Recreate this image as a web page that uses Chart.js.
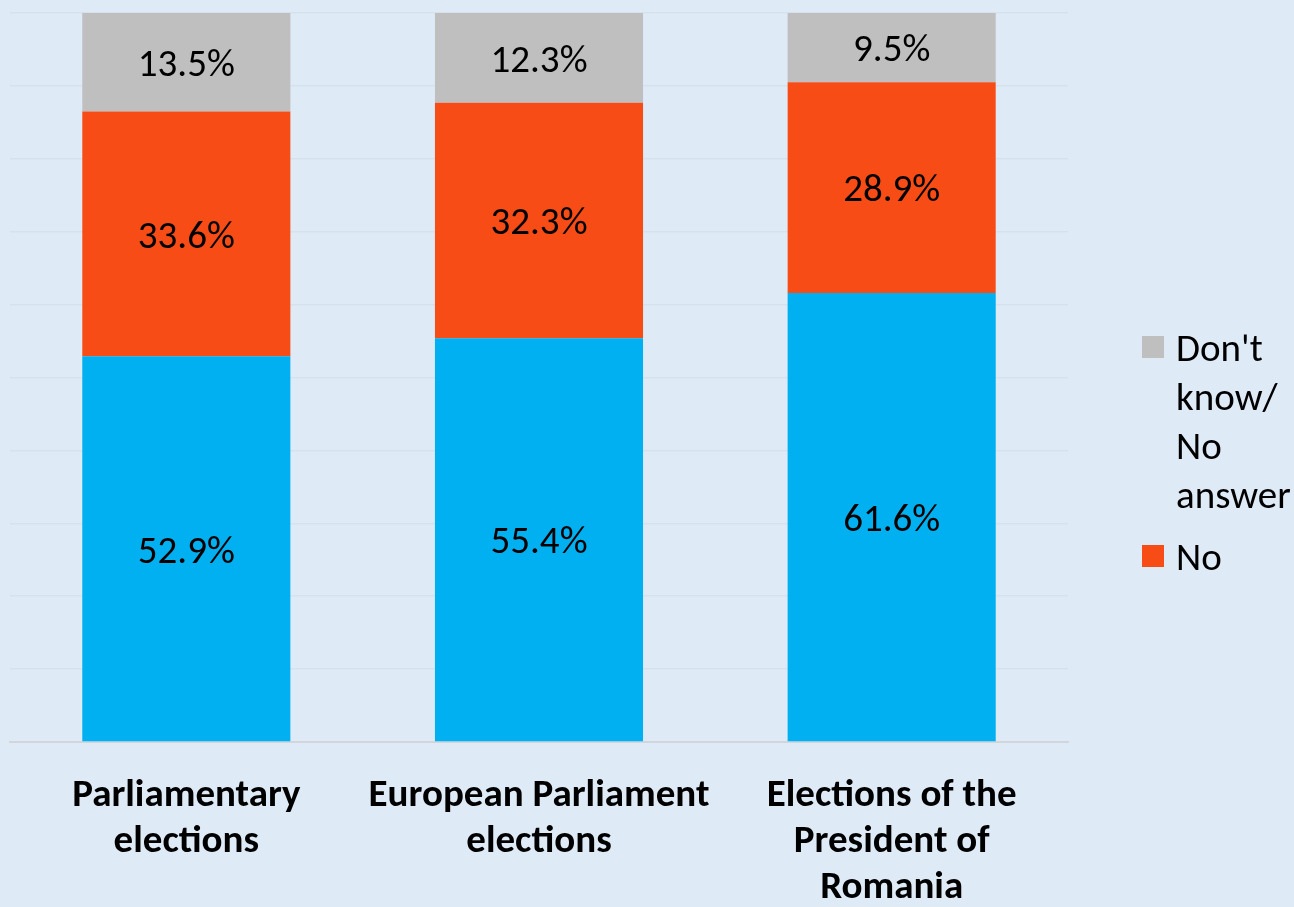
<!DOCTYPE html>
<html>
<head>
<meta charset="utf-8">
<script src="https://cdn.jsdelivr.net/npm/chart.js@4"></script>
<style>
  html, body { margin: 0; padding: 0; background: #deeaf6; overflow: hidden; }
  #wrap { position: relative; width: 1294px; height: 907px; }
  #legend { position: absolute; left: 1142px; top: 323px; font-family: Carlito, Lato, sans-serif; font-size: 39px; line-height: 49px; color: #000; white-space: nowrap; }
  .item { position: relative; padding-left: 34px; margin-bottom: 13px; }
  .box { position: absolute; left: 0; top: 13px; width: 22px; height: 22px; }
</style>
</head>
<body>
<div id="wrap">
  <canvas id="chart" width="1294" height="907"></canvas>
  <div id="legend"></div>
</div>
<script>
// ---------- data ----------
const categories = [
    ['Parliamentary', 'elections'],
    ['European Parliament', 'elections'],
    ['Elections of the', 'President of', 'Romania']
];
const yesValues = [52.9, 55.4, 61.6];
const noValues = [33.6, 32.3, 28.9];
const dkValues = [13.5, 12.3, 9.5];

const blue = '#00b0f0';
const orange = '#f84c16';
const grey = '#bfbfbf';
const font = 'Carlito, Lato, sans-serif';

// ---------- value labels inside the bars ----------
const barLabels = {
    id: 'barLabels',
    afterDatasetsDraw(chart) {
        const ctx = chart.ctx;
        ctx.save();
        ctx.font = '39px ' + font;
        ctx.fillStyle = '#000';
        ctx.textAlign = 'center';
        ctx.textBaseline = 'middle';
        chart.data.datasets.forEach((ds, i) => {
            chart.getDatasetMeta(i).data.forEach((bar, j) => {
                const p = bar.getProps(['x', 'y', 'base'], true);
                ctx.fillText(ds.data[j].toFixed(1) + '%', p.x, (p.y + p.base) / 2 + 4);
            });
        });
        ctx.restore();
    }
};

const chart = new Chart(document.getElementById('chart'), {
    type: 'bar',
    data: {
        labels: categories,
        datasets: [
            { label: 'Yes', data: yesValues, backgroundColor: blue },
            { label: 'No', data: noValues, backgroundColor: orange },
            { label: "Don't know/ No answer", data: dkValues, backgroundColor: grey }
        ]
    },
    options: {
        responsive: false,
        animation: false,
        layout: { padding: { left: 10, right: 226, top: 13, bottom: 0 } },
        datasets: { bar: { categoryPercentage: 1, barPercentage: 0.59, borderWidth: 0 } },
        plugins: { legend: { display: false }, tooltip: { enabled: false } },
        scales: {
            x: {
                stacked: true,
                grid: { display: false, drawTicks: false },
                border: { color: '#d2d6dc', width: 2 },
                ticks: {
                    padding: 31,
                    color: '#000',
                    maxRotation: 0,
                    font: { family: font, size: 39, weight: 'bold', lineHeight: 1.18 }
                },
                afterFit(scale) { scale.height = 165; }
            },
            y: {
                stacked: true,
                min: 0,
                max: 100,
                ticks: { display: false, stepSize: 10 },
                grid: { color: '#d6e1ed', lineWidth: 1.5, drawTicks: false },
                border: { display: false },
                afterFit(scale) { scale.width = 0; }
            }
        }
    },
    plugins: [barLabels]
});

// ---------- legend (Yes entry not shown in the original) ----------
const legend = document.getElementById('legend');
[{ text: ["Don't", 'know/', 'No', 'answer'], color: grey }, { text: ['No'], color: orange }].forEach(it => {
    const d = document.createElement('div');
    d.className = 'item';
    d.innerHTML = '<span class="box" style="background:' + it.color + '"></span>' + it.text.join('<br>');
    legend.appendChild(d);
});
</script>
</body>
</html>
